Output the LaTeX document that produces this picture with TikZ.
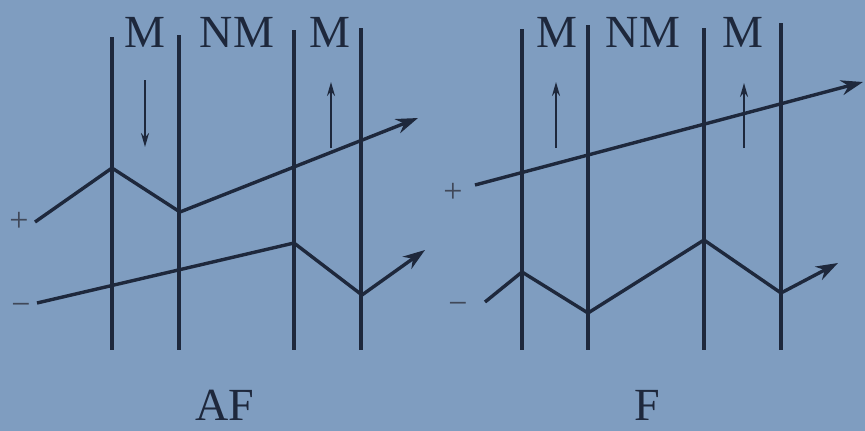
\documentclass[tikz,border=0pt]{standalone}
\usepackage{fontspec}
\setmainfont{Liberation Serif}
\usetikzlibrary{arrows.meta, positioning}
\definecolor{bgblue}{RGB}{127,157,192}
\definecolor{ink}{RGB}{30,40,60}

\begin{document}
\begin{tikzpicture}[x=1pt, y=-1pt,
  wall/.style={line width=3.6pt, draw=ink},
  track/.style={line width=3.4pt, draw=ink, line join=round,
                -{Stealth[length=22pt, width=15pt]}},
  spin/.style={line width=2pt, draw=ink, -{Stealth[length=14pt, width=8pt]}},
  lbl/.style={text=ink, font=\fontsize{46}{50}\selectfont, inner sep=0pt, anchor=base},
  sign/.style={text=ink!85, font=\fontsize{34}{36}\selectfont, inner sep=0pt}
]
\fill[bgblue] (0,0) rectangle (865,431);
\useasboundingbox (0,0) rectangle (865,431);

% Left panel: AF
\foreach \x/\t in {112/37, 179/35, 294/30, 361/28}
  \draw[wall] (\x,\t) -- (\x,350);
\node[lbl] (afm1) at (145,47) {M};
\node[lbl] (afnm) at (237,47) {NM};
\node[lbl] (afm2) at (330,47) {M};
\draw[spin] (145,80) -- (145,147);
\draw[spin] (331,148) -- (331,82);
\node[sign] (afplus) at (19,222) {+};
\node[sign] (afminus) at (21,309) {−};
\draw[track] (35,222) -- (112,168) -- (180,212) -- (418,118);
\draw[track] (37,303) -- (294,243) -- (362,295) -- (425,250);
\node[lbl] (af) at (225,420) {AF};

% Right panel: F
\foreach \x/\t in {522/29, 588/25, 704/28, 781/23}
  \draw[wall] (\x,\t) -- (\x,350);
\node[lbl] (fm1) at (557,47) {M};
\node[lbl] (fnm) at (643,47) {NM};
\node[lbl] (fm2) at (743,47) {M};
\draw[spin] (556,148) -- (556,82);
\draw[spin] (744,148) -- (744,83);
\node[sign] (fplus) at (453,193) {+};
\node[sign] (fminus) at (458,308) {−};
\draw[track] (475,185) -- (863,82);
\draw[track] (485,302) -- (522,272) -- (588,313) -- (704,240) -- (781,293) -- (838,263);
\node[lbl] (f) at (647,420) {F};
\end{tikzpicture}
\end{document}
